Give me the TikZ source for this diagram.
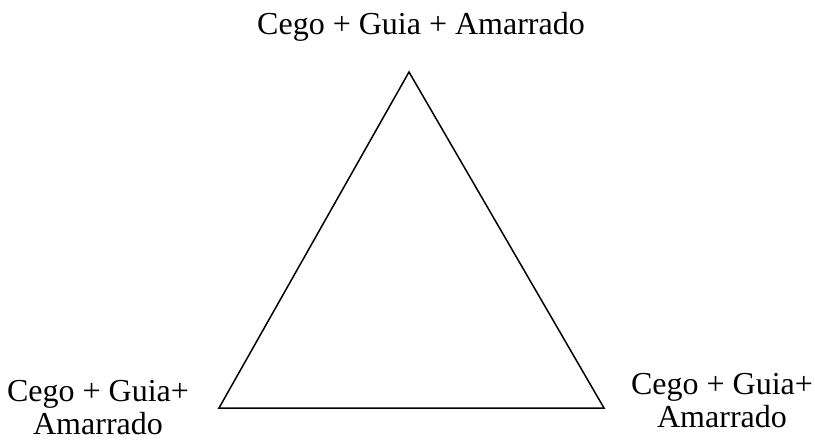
\documentclass[tikz,border=0pt]{standalone}
\usepackage{fontspec}
\setmainfont{Liberation Serif}
\usepackage{tikz}
\usetikzlibrary{positioning}

\begin{document}
\begin{tikzpicture}[x=0.5pt, y=0.5pt,
        every node/.style={font=\fontsize{16}{16.5}\selectfont, inner sep=0pt},
        lbl/.style={align=center},
        edge/.style={line width=0.75pt, line join=miter}]
      \useasboundingbox (0,0) rectangle (815,440);
      \coordinate (top) at (409,368);
      \coordinate (left) at (219,32);
      \coordinate (right) at (604,32);
      \draw[edge] (top) -- (left) -- (right) -- cycle;
      \node[lbl, anchor=base] (ltop) at (421,405) {Cego + Guia + Amarrado};
      \node[lbl] (lleft) at (98,32) {Cego + Guia+\\Amarrado};
      \node[lbl] (lright) at (722,39) {Cego + Guia+\\Amarrado};
    \end{tikzpicture}
\end{document}
